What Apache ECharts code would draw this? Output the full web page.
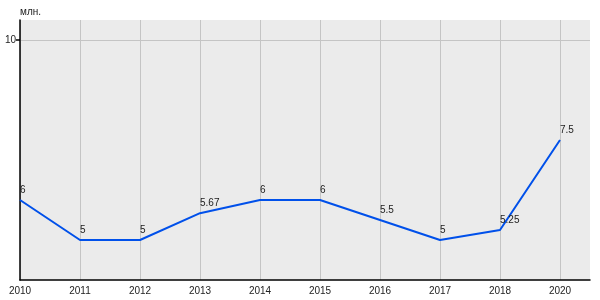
<!DOCTYPE html>
<html><head><meta charset="utf-8">
<script src="https://cdn.jsdelivr.net/npm/echarts@6/dist/echarts.min.js"></script>
<style>html,body{margin:0;padding:0;background:#fff}#c{width:600px;height:300px}</style>
</head><body><div id="c"></div>
<script>
const categories = ['2010','2011','2012','2013','2014','2015','2016','2017','2018','2020'];
const values = [6, 5, 5, 5.67, 6, 6, 5.5, 5, 5.25, 7.5];
const yTicks = [10];
const unitLabel = 'млн.';

const idx = categories.map((c, i) => i);
const chart = echarts.init(document.getElementById('c'));
chart.setOption({
  animation: false,
  textStyle: {fontFamily: 'Liberation Sans, Arial, sans-serif'},
  grid: {left: 20, right: 10, top: 20, bottom: 20, show: true, backgroundColor: '#ebebeb', borderWidth: 0},
  xAxis: {
    type: 'value', min: 0, max: 9.5,
    axisLine: {show: true, lineStyle: {color: '#000', width: 1.5}},
    axisTick: {show: false, customValues: idx},
    axisLabel: {customValues: idx, formatter: v => categories[v], color: '#222', fontSize: 10, margin: 6},
    splitLine: {show: true, lineStyle: {color: '#c4c4c4', width: 1}}
  },
  yAxis: {
    type: 'value', min: 4, max: 10.5,
    name: unitLabel, nameLocation: 'end', nameGap: 3,
    nameTextStyle: {color: '#222', fontSize: 10, align: 'left', verticalAlign: 'bottom'},
    axisLine: {show: true, lineStyle: {color: '#000', width: 1.5}},
    axisTick: {show: true, inside: false, length: 4, customValues: yTicks, lineStyle: {color: '#000', width: 1.5}},
    axisLabel: {customValues: yTicks, color: '#222', fontSize: 10, margin: 4},
    splitLine: {show: true, lineStyle: {color: '#c4c4c4', width: 1}}
  },
  series: [{
    type: 'line',
    data: values.map((v, i) => [i, v]),
    showSymbol: true,
    symbol: 'circle',
    symbolSize: 1,
    itemStyle: {opacity: 0},
    lineStyle: {color: '#0050ea', width: 2},
    label: {show: true, position: 'top', align: 'left', distance: 4, color: '#222', fontSize: 10, opacity: 1,
      formatter: p => String(values[p.dataIndex])}
  }]
});
</script></body></html>
